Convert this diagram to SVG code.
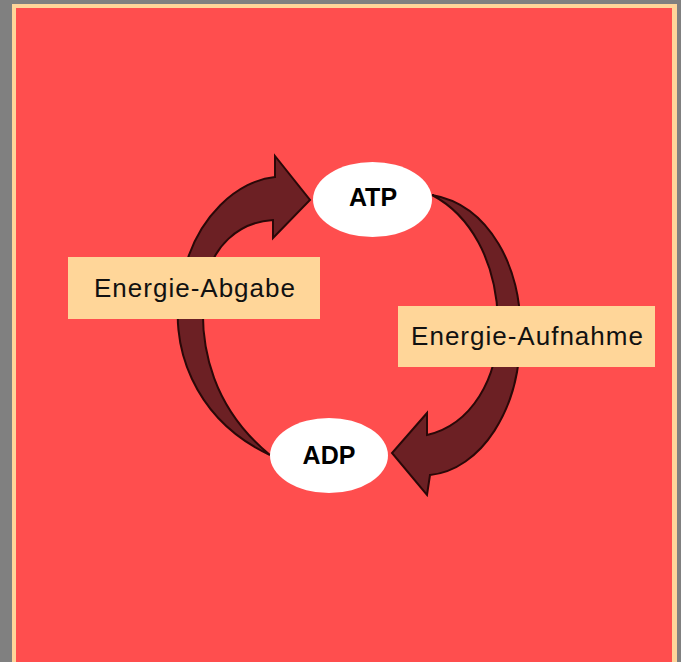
<svg xmlns="http://www.w3.org/2000/svg" width="681" height="662" viewBox="0 0 681 662">
  <style>
    .arrow { fill: #6c2024; stroke: #2a0808; stroke-width: 2; stroke-linejoin: miter; }
    .node { fill: #ffffff; }
    .nodetext { font-family: "Liberation Sans", Arial, sans-serif; font-weight: bold; font-size: 25px; fill: #000000; text-anchor: middle; }
    .label { fill: #ffd699; }
    .labeltext { font-family: "Liberation Sans", Arial, sans-serif; font-size: 26px; letter-spacing: 1px; fill: #111111; text-anchor: middle; }
  </style>
  <rect x="0" y="0" width="681" height="662" fill="#808080"/>
  <rect x="12" y="4" width="665" height="670" fill="#ffd59a"/>
  <rect x="16" y="8" width="656" height="670" fill="#ff4e4e"/>

  <g id="connectors">
    <path id="arrow-abgabe" class="arrow" d="M 270 455 C 195 420, 166 345, 182 280 C 195 215, 240 180, 275 177 L 275 156 L 310 200 L 273 238 L 273 220 C 240 222, 210 245, 204 290 C 198 350, 215 410, 270 455 Z"/>
    <path id="arrow-aufnahme" class="arrow" d="M 432 195 C 490 205, 522 270, 520 330 C 522 410, 480 470, 430 475 L 427 495 L 392 453 L 427 413 L 427 435 C 470 425, 500 380, 498 320 C 496 260, 470 215, 432 195 Z"/>
  </g>

  <g id="node-atp">
    <ellipse class="node" cx="372.5" cy="199.5" rx="59.5" ry="37.5"/>
    <text class="nodetext" x="373" y="205.5">ATP</text>
  </g>
  <g id="node-adp">
    <ellipse class="node" cx="329" cy="455.5" rx="59" ry="37.5"/>
    <text class="nodetext" x="329" y="463.5">ADP</text>
  </g>

  <g id="label-abgabe">
    <rect class="label" x="68" y="257" width="252" height="62"/>
    <text class="labeltext" x="195" y="297">Energie-Abgabe</text>
  </g>
  <g id="label-aufnahme">
    <rect class="label" x="398" y="306" width="257" height="61"/>
    <text class="labeltext" x="527.5" y="345">Energie-Aufnahme</text>
  </g>
</svg>
